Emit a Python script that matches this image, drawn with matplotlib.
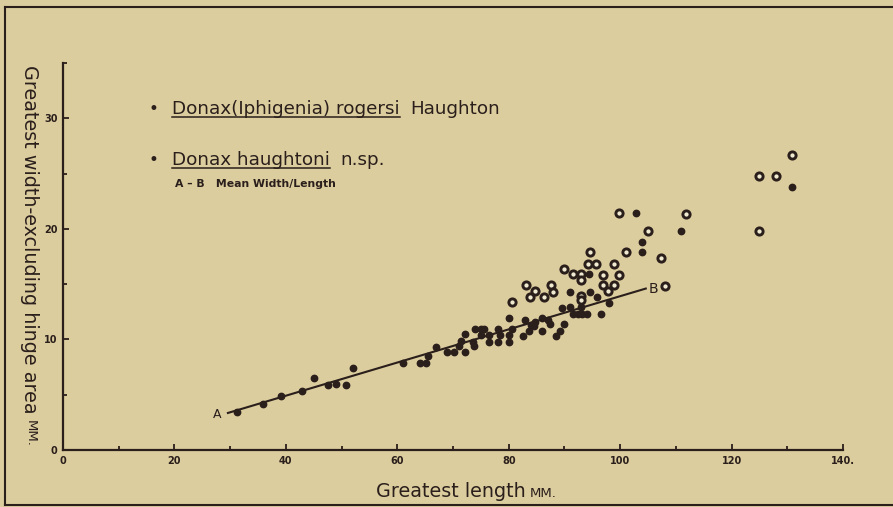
import matplotlib
matplotlib.use('Agg')
import matplotlib.pyplot as plt
from matplotlib.lines import Line2D

BG = '#dccd9f'
INK = '#2a1f1b'
HOLE = '#f1ead2'
W, H = 893, 507

# Donax (Iphigenia) rogersi Haughton -- solid dots (length mm, width mm)
rogersi_length = [31.3, 35.9, 39.1, 42.9, 45.0, 47.5, 49.0, 50.8, 52.0,
                  61.0, 64.1, 65.1, 65.6, 67.0, 69.0, 70.1, 71.1, 71.4, 72.2, 72.1,
                  73.6, 73.7, 74.0, 75.1, 75.6, 75.0, 76.5, 76.5, 78.0, 78.0,
                  78.5, 80.0, 80.0, 80.0, 80.6, 82.6, 82.9, 83.6, 84.0, 84.7,
                  84.6, 85.9, 86.0, 87.0, 87.4, 88.5, 89.2, 90.0, 89.6, 91.0,
                  93.0, 91.6, 92.4, 93.2, 94.0, 96.5, 98.0, 91.0, 94.5, 95.9,
                  94.4, 102.9, 111.0, 103.9, 103.9, 130.9]
rogersi_width = [3.4, 4.2, 4.9, 5.3, 6.5, 5.9, 6.0, 5.9, 7.4,
                 7.9, 7.9, 7.9, 8.5, 9.3, 8.9, 8.9, 9.4, 9.9, 10.5, 8.9,
                 9.8, 9.4, 10.9, 10.9, 10.9, 10.4, 10.4, 9.8, 10.9, 9.8,
                 10.4, 10.4, 9.8, 11.9, 10.9, 10.3, 11.8, 10.8, 11.3, 11.6,
                 11.2, 11.9, 10.8, 11.8, 11.4, 10.3, 10.8, 11.4, 12.8, 12.9,
                 12.9, 12.3, 12.3, 12.3, 12.3, 12.3, 13.3, 14.3, 14.3, 13.8,
                 15.9, 21.4, 19.8, 18.8, 17.9, 23.8]

# Donax haughtoni n.sp. -- ringed dots
haughtoni_length = [80.5, 83.1, 83.9, 84.8, 86.4, 87.5, 87.9, 90.0, 91.5, 93.0,
                    93.0, 94.5, 94.3, 95.6, 97.0, 98.9, 99.8, 97.0, 98.9, 97.9,
                    92.9, 92.9, 99.8, 111.9, 105.0, 101.0, 107.4, 108.1, 124.9,
                    124.9, 128.0, 130.9]
haughtoni_width = [13.4, 14.9, 13.8, 14.4, 13.8, 14.9, 14.3, 16.4, 15.9, 15.9,
                   15.4, 17.9, 16.8, 16.8, 15.8, 16.8, 15.8, 14.9, 14.9, 14.4,
                   13.9, 13.6, 21.4, 21.3, 19.8, 17.9, 17.4, 14.8, 19.8,
                   24.8, 24.8, 26.7]

# A-B mean width/length line
mean_length = [29.6, 104.6]
mean_width = [3.35, 14.6]

x_major = [0, 20, 40, 60, 80, 100, 120, 140]
x_labels = ['0', '20', '40', '60', '80', '100', '120', '140.']
x_minor = [10, 30, 50, 70, 90, 110, 130]
y_major = [0, 10, 20, 30]
y_labels = ['0', '10', '20', '30']
y_minor = [5, 15, 25, 35]


def px(x, y):
    return x / W, 1 - y / H


fig = plt.figure(figsize=(W / 100, H / 100), dpi=100, facecolor=BG)
plt.rcParams['font.family'] = ['DejaVu Sans']

ax = fig.add_axes([63 / W, 57 / H, 780 / W, 387 / H])
ax.patch.set_alpha(0)
ax.set_xlim(0, 140)
ax.set_ylim(0, 35)
for side in ('top', 'right'):
    ax.spines[side].set_visible(False)
for side in ('left', 'bottom'):
    ax.spines[side].set_color(INK)
    ax.spines[side].set_linewidth(1.6)

ax.set_xticks(x_major)
ax.set_xticklabels(x_labels, fontsize=7, fontweight='bold', color=INK)
ax.set_xticks(x_minor, minor=True)
ax.set_yticks(y_major)
ax.set_yticklabels(y_labels, fontsize=7, fontweight='bold', color=INK)
ax.set_yticks(y_minor, minor=True)
ax.tick_params(which='both', direction='in', color=INK, width=1.3, pad=4)
ax.tick_params(which='major', length=4)
ax.tick_params(which='minor', length=3)

ax.plot(mean_length, mean_width, color=INK, lw=1.5, zorder=2)
ax.plot(rogersi_length, rogersi_width, 'o', ms=4.6, color=INK, zorder=3, clip_on=False)
ax.plot(haughtoni_length, haughtoni_width, 'o', ms=5.2, mfc=HOLE, mec=INK, mew=2.1,
        zorder=3, clip_on=False)
ax.annotate('A', xy=(mean_length[0], mean_width[0]), xytext=(-5, -1),
            textcoords='offset points', ha='right', va='center', fontsize=9, color=INK)
ax.annotate('B', xy=(mean_length[1], mean_width[1]), xytext=(2, 0),
            textcoords='offset points', ha='left', va='center', fontsize=10, color=INK)

# legend, drawn by hand
fig.text(*px(153, 109), '\u2022', fontsize=12, ha='center', va='center', color=INK)
fig.text(*px(153, 160), '\u2022', fontsize=12, ha='center', va='center', color=INK)
t1 = fig.text(*px(172, 114), 'Donax(Iphigenia) rogersi', fontsize=13.2, va='baseline', color=INK)
t2 = fig.text(*px(172, 165), 'Donax haughtoni', fontsize=13.2, va='baseline', color=INK)
fig.text(*px(175, 187), 'A \u2013 B   Mean Width/Length', fontsize=7.8, fontweight='bold',
         va='baseline', color=INK)

ylab = fig.text(*px(30, 65), 'Greatest width-excluding hinge area', fontsize=13.8,
                rotation=270, rotation_mode='anchor', ha='left', va='center', color=INK)
xlab = fig.text(*px(376, 497), 'Greatest length', fontsize=13.8, va='baseline', color=INK)

fig.canvas.draw()
renderer = fig.canvas.get_renderer()
inv = fig.transFigure.inverted()

for t, extra in ((t1, 'Haughton'), (t2, 'n.sp.')):
    bb = t.get_window_extent(renderer)
    x0, yb = inv.transform((bb.x0, 0))[0], t.get_position()[1]
    x1 = inv.transform((bb.x1, 0))[0]
    ul = yb - 2.5 / H
    fig.add_artist(Line2D([x0, x1], [ul, ul], color=INK, lw=1.1, transform=fig.transFigure))
    fig.text(x1 + 11 / W, yb, extra, fontsize=13.2, va='baseline', color=INK)

bb = ylab.get_window_extent(renderer)
yend = inv.transform((0, bb.y0))[1]
fig.text(ylab.get_position()[0], yend - 6 / H, 'MM.', fontsize=9.5, rotation=270,
         rotation_mode='anchor', ha='left', va='center', color=INK)

bb = xlab.get_window_extent(renderer)
xend = inv.transform((bb.x1, 0))[0]
fig.text(xend + 4 / W, xlab.get_position()[1], 'MM.', fontsize=9.5, va='baseline', color=INK)

# plate frame (left, top, bottom)
for xs, ys in (([5, 5], [7, 505]), ([5, W], [7, 7]), ([5, W], [505, 505])):
    fig.add_artist(Line2D([x / W for x in xs], [1 - y / H for y in ys], color=INK, lw=1.5,
                          transform=fig.transFigure))

fig.savefig('out.png', dpi=100, facecolor=BG)
